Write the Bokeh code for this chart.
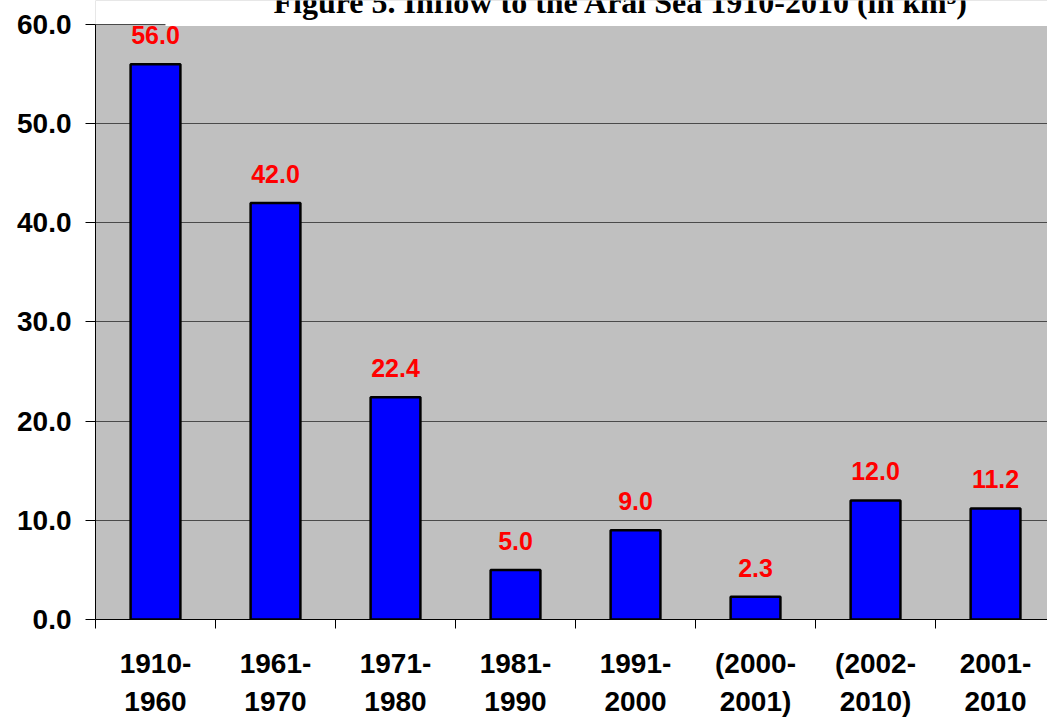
from bokeh.plotting import figure
from bokeh.models import (ColumnDataSource, LabelSet, Label, Range1d, FixedTicker,
                          NumeralTickFormatter, LinearAxis, BoxAnnotation)
from bokeh.core.properties import value
from bokeh.embed import file_html
from bokeh.resources import INLINE

periods_top = ["1910-", "1961-", "1971-", "1981-", "1991-", "(2000-", "(2002-", "2001-"]
periods_bottom = ["1960", "1970", "1980", "1990", "2000", "2001)", "2010)", "2010"]
inflow = [56.0, 42.0, 22.4, 5.0, 9.0, 2.3, 12.0, 11.2]
y_ticks = [0, 10, 20, 30, 40, 50, 60]
title_text = "Figure 5. Inflow to the Aral Sea 1910-2010 (in km\u00b3)"

W, H = 1047, 719
FONT = "Liberation Sans"
AX_FS = "28px"

xpos = [i + 0.5 for i in range(len(inflow))]
bounds = list(range(0, len(inflow) + 1))
src = ColumnDataSource(dict(
    x=xpos, top=inflow,
    lab=["%.1f" % v for v in inflow],
))

p = figure(width=W, height=H, output_backend="svg", toolbar_location=None,
           x_range=Range1d(0, 7.933), y_range=Range1d(0, 62.42),
           min_border_left=95, min_border_right=0, min_border_top=0,
           min_border_bottom=99)
p.background_fill_color = "#C0C0C0"
p.border_fill_color = "white"
p.outline_line_color = None

p.vbar(x="x", top="top", width=0.415, bottom=0, source=src,
       fill_color="#0000FF", line_color="black", line_width=2.5)

# y axis
p.yaxis.ticker = FixedTicker(ticks=y_ticks)
p.yaxis.bounds = (0, 60)
p.yaxis.formatter = NumeralTickFormatter(format="0.0")
p.yaxis.major_label_text_font = FONT
p.yaxis.major_label_text_font_style = "bold"
p.yaxis.major_label_text_font_size = AX_FS
p.yaxis.major_label_text_color = "black"
p.yaxis.major_tick_out = 10
p.yaxis.major_tick_in = 0
p.yaxis.minor_tick_out = 0
p.yaxis.minor_tick_in = 0
p.yaxis.major_label_standoff = 14
p.yaxis.axis_line_color = "black"
p.yaxis.major_tick_line_color = "black"

# x axis: boundary ticks (as minor ticks) + first line of category labels
xa = p.xaxis[0]
xa.ticker = FixedTicker(ticks=xpos, minor_ticks=bounds)
xa.major_label_overrides = {x: t for x, t in zip(xpos, periods_top)}
xa.major_tick_out = 0
xa.major_tick_in = 0
xa.minor_tick_out = 9
xa.minor_tick_in = 0
xa.minor_tick_line_color = "black"
xa.axis_line_color = "black"
xa.major_label_standoff = 19
xa.major_label_text_font = FONT
xa.major_label_text_font_style = "bold"
xa.major_label_text_font_size = AX_FS
xa.major_label_text_color = "black"

# second line of category labels
xb = LinearAxis(ticker=FixedTicker(ticks=xpos, minor_ticks=[]),
                major_label_overrides={x: t for x, t in zip(xpos, periods_bottom)},
                axis_line_color=None, major_tick_line_color=None,
                minor_tick_line_color=None, major_tick_out=0, major_tick_in=0,
                minor_tick_out=0, minor_tick_in=0, major_label_standoff=4,
                major_label_text_font=FONT, major_label_text_font_style="bold",
                major_label_text_font_size=AX_FS, major_label_text_color="black")
p.add_layout(xb, "below")

p.xgrid.grid_line_color = None
p.ygrid.ticker = FixedTicker(ticks=y_ticks)
p.ygrid.grid_line_color = "#4a4a4a"
p.ygrid.grid_line_width = 1

# white title area above the plot
p.add_layout(BoxAnnotation(bottom=60.05, fill_color="white", fill_alpha=1,
                           line_color=None))
p.add_layout(BoxAnnotation(bottom=59.85, top=60.05, left=0.583, fill_color="white",
                           fill_alpha=1, line_color=None))

# value labels
p.add_layout(LabelSet(x="x", y="top", text="lab", source=src, y_offset=20,
                      text_align="center", text_baseline="alphabetic",
                      text_font=value(FONT), text_font_style="bold",
                      text_font_size="25px", text_color="#FF0000"))

# title (partly cut off at the top, as in the original)
p.add_layout(Label(x=178, y=618, x_units="screen", y_units="screen",
                   text=title_text, text_align="left", text_baseline="alphabetic",
                   text_font="Liberation Serif", text_font_style="bold",
                   text_font_size="32px", text_color="black"))

open("out.html", "w").write(file_html(p, INLINE))
